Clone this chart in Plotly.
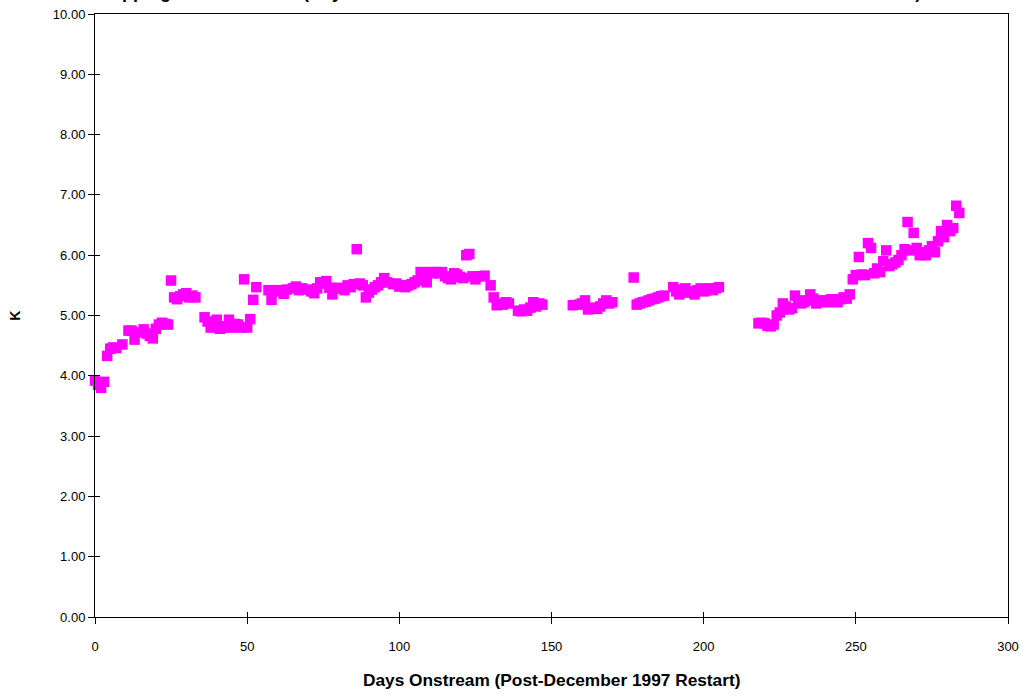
import plotly.graph_objects as go

# Days onstream (post-December 1997 restart)
days = [0, 1, 2, 3, 4, 5, 6, 7, 9, 11, 12, 13, 14, 16, 17, 18, 19, 20, 21, 22, 23, 24,
        25, 26, 27, 28, 29, 30, 31, 32, 33,
        36, 37, 38, 40, 41, 42, 43, 44, 45, 46, 47, 48, 49, 50, 51, 52, 53,
        57, 58, 59, 60, 62, 63, 65, 66, 67, 68, 70, 71, 72, 73, 74, 75, 76, 77, 78, 79,
        80, 81, 82, 83, 84, 85, 86, 87, 88, 89, 90, 91, 92, 93, 94, 95, 96, 98, 99,
        100, 101, 102, 103, 104, 105, 106, 107, 108, 109, 110, 111, 112, 113, 114, 115,
        116, 117, 118, 119, 120, 121, 122, 123, 124, 125, 126, 127, 128, 130, 131, 132,
        133, 134, 135, 136, 139, 140, 141, 142, 143, 144, 145, 146, 147,
        157, 159, 160, 161, 162, 163, 164, 165, 166, 167, 168, 169, 170, 177,
        178, 179, 180, 181, 182, 183, 184, 185, 186, 187, 190, 191, 192, 193, 194, 195,
        196, 197, 198, 199, 200, 201, 202, 203, 204, 205,
        218, 219, 220, 221, 222, 223, 224, 225, 226, 227, 228, 229, 230, 231, 232, 233,
        234, 235, 236, 237, 238, 239, 240, 241, 242, 243, 244, 245, 246, 247, 248, 249,
        250, 251, 252, 253, 254, 255, 256, 257, 258, 259, 260, 261, 262, 263, 264, 265,
        266, 267, 268, 269, 270, 271, 272, 273, 274, 275, 276, 277, 278, 279, 280, 281,
        282, 283, 284]

k_values = [3.92, 3.85, 3.80, 3.90, 4.33, 4.45, 4.47, 4.46, 4.52, 4.75, 4.75, 4.60, 4.72,
            4.77, 4.70, 4.66, 4.62, 4.78, 4.85, 4.88, 4.86, 4.85,
            5.58, 5.30, 5.27, 5.32, 5.35, 5.37, 5.30, 5.33, 5.30,
            4.97, 4.90, 4.80, 4.93, 4.78, 4.80, 4.82, 4.93, 4.80, 4.86, 4.85, 4.80, 5.60,
            4.80, 4.94, 5.26, 5.47,
            5.42, 5.26, 5.40, 5.42, 5.36, 5.43, 5.45, 5.48, 5.42, 5.45, 5.43, 5.40, 5.37,
            5.45, 5.55, 5.53, 5.57, 5.46, 5.35, 5.45,
            5.46, 5.45, 5.42, 5.50, 5.47, 5.52, 6.10, 5.53, 5.50, 5.30, 5.38, 5.43, 5.47,
            5.50, 5.55, 5.62, 5.55, 5.52, 5.53,
            5.48, 5.50, 5.47, 5.50, 5.52, 5.55, 5.58, 5.72, 5.62, 5.55, 5.72, 5.70, 5.72,
            5.70, 5.72, 5.65, 5.62, 5.60, 5.70, 5.68, 5.64, 5.62, 6.00, 6.02, 5.65, 5.60,
            5.65, 5.65, 5.66, 5.50, 5.30, 5.17,
            5.20, 5.18, 5.22, 5.20, 5.08, 5.07, 5.10, 5.08, 5.13, 5.22, 5.15, 5.20, 5.18,
            5.17, 5.18, 5.20, 5.25, 5.10, 5.12, 5.13, 5.11, 5.15, 5.20, 5.25, 5.20, 5.22,
            5.63,
            5.18, 5.20, 5.22, 5.23, 5.25, 5.27, 5.28, 5.30, 5.32, 5.33, 5.47, 5.40, 5.35,
            5.43, 5.45, 5.38, 5.40, 5.35, 5.42, 5.45, 5.40, 5.42, 5.45, 5.42, 5.45, 5.47,
            4.87, 4.88, 4.87, 4.83, 4.82, 4.85, 5.00, 5.05, 5.20, 5.15, 5.10, 5.12, 5.33,
            5.25, 5.20, 5.22, 5.25, 5.35, 5.28, 5.20, 5.22, 5.25, 5.25, 5.22, 5.27, 5.25,
            5.22, 5.27, 5.30, 5.28, 5.35, 5.60,
            5.67, 5.97, 5.68, 5.67, 6.20, 6.12, 5.70, 5.78, 5.72, 5.90, 6.08, 5.82, 5.85,
            5.88, 5.92, 6.00, 6.10, 6.55, 6.08, 6.37, 6.12, 6.00, 6.05, 6.00, 6.08, 6.15,
            6.05, 6.23, 6.40, 6.30, 6.50, 6.40, 6.45, 6.82, 6.70]

x_ticks = [0, 50, 100, 150, 200, 250, 300]
y_ticks = [0, 1, 2, 3, 4, 5, 6, 7, 8, 9, 10]
y_tick_labels = ["%.2f" % v for v in y_ticks]

title_text = "Stripping Rate Constant (Days Onstream Since the December 1997 Restart of the LPMEOH Plant)"
x_title = "Days Onstream (Post-December 1997 Restart)"
y_title = "K"

font_family = "Liberation Sans, Arial, sans-serif"

fig = go.Figure()
fig.add_trace(go.Scatter(
    x=days, y=k_values, mode="markers",
    marker=dict(symbol="square", size=10.5, color="#FF00FF", line=dict(width=0)),
    cliponaxis=False, showlegend=False,
))

axis_common = dict(showgrid=False, zeroline=False, showline=True, linecolor="black",
                   linewidth=1, mirror=True, ticks="outside", ticklen=6,
                   tickcolor="black", tickwidth=1, automargin=False)

fig.update_layout(
    width=1026, height=696,
    margin=dict(l=95, r=18, t=14, b=79),
    paper_bgcolor="white", plot_bgcolor="white",
    font=dict(family=font_family, size=13, color="black"),
    xaxis=dict(range=[0, 300], tickvals=x_ticks, ticktext=[str(v) for v in x_ticks],
               ticklabelstandoff=11, **axis_common),
    yaxis=dict(range=[0, 10], tickvals=y_ticks, ticktext=y_tick_labels,
               **axis_common),
    xaxis2=dict(range=[0, 300], overlaying="x", tickvals=x_ticks, showticklabels=False,
                ticks="inside", ticklen=5, tickcolor="black", showgrid=False,
                zeroline=False, showline=False, automargin=False),
    yaxis2=dict(range=[0, 10], overlaying="y", tickvals=y_ticks, showticklabels=False,
                ticks="inside", ticklen=5, tickcolor="black", showgrid=False,
                zeroline=False, showline=False, automargin=False),
    annotations=[
        dict(text="<b>%s</b>" % title_text, xref="paper", yref="paper",
             x=-0.0055, y=1.0, yshift=10, xanchor="left", yanchor="bottom",
             showarrow=False, font=dict(size=18, family=font_family)),
        dict(text="<b>%s</b>" % x_title, xref="paper", yref="paper",
             x=0.5, y=-0.1045, xanchor="center", yanchor="middle",
             showarrow=False, font=dict(size=17.3, family=font_family)),
        dict(text="<b>%s</b>" % y_title, xref="paper", yref="paper",
             x=-0.087, y=0.499, xanchor="center", yanchor="middle", textangle=-90,
             showarrow=False, font=dict(size=14, family=font_family)),
    ],
)

# invisible trace to activate overlay axes for crossing tick marks
fig.add_trace(go.Scatter(x=[None], y=[None], xaxis="x2", yaxis="y2",
                         showlegend=False, hoverinfo="skip"))

fig.write_html("out.html", config={"displayModeBar": False},
               post_script="document.body.style.margin='0';document.body.style.overflow='hidden';")
